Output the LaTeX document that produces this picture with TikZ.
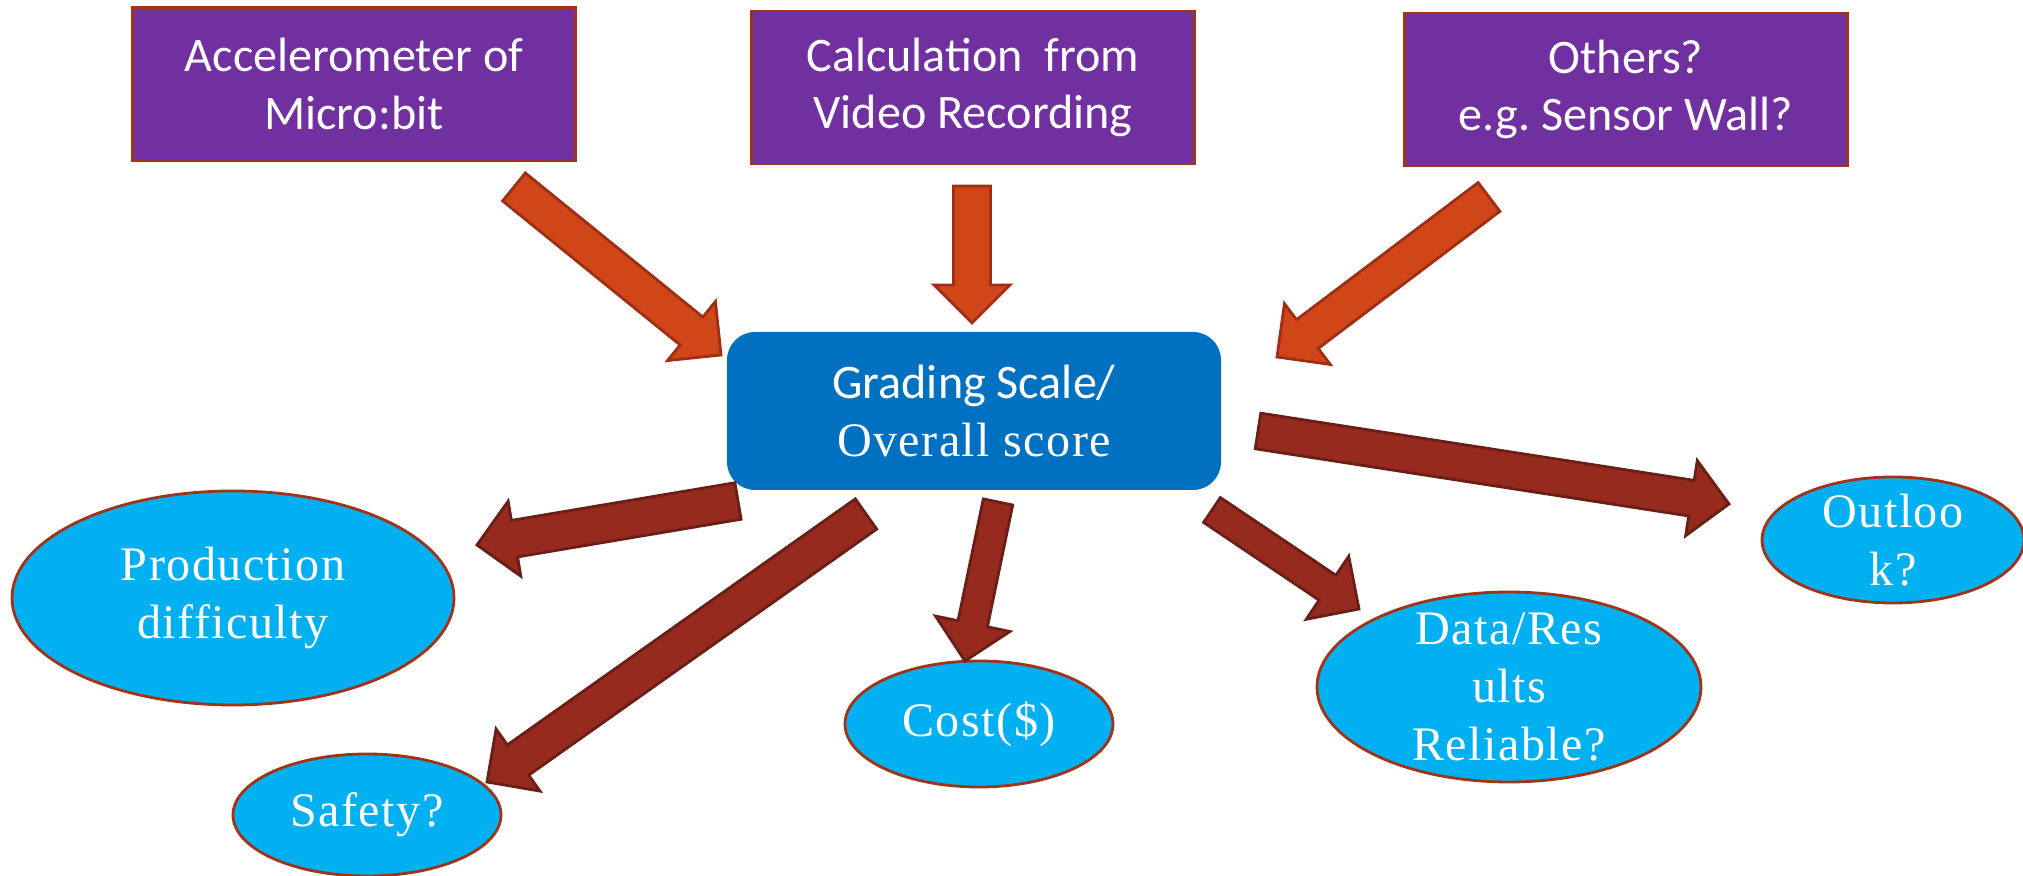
\documentclass[tikz,border=0pt]{standalone}
\usepackage{fontspec}
\setmainfont{Carlito}
\newfontfamily\ellfont[LetterSpace=3]{Liberation Serif}
\usetikzlibrary{positioning, calc, shapes.geometric}
\definecolor{box-purple}{RGB}{112,48,160}
\definecolor{score-blue}{RGB}{0,112,192}
\definecolor{ell-blue}{RGB}{0,176,240}
\definecolor{edge-red}{RGB}{160,52,24}
\definecolor{in-orange}{RGB}{208,70,24}
\definecolor{in-edge}{RGB}{160,46,20}
\definecolor{out-red}{RGB}{150,42,30}
\definecolor{out-edge}{RGB}{105,30,22}

% block arrow: style, tail, tip, half shaft width
\newcommand{\blockarr}[4]{%
  \draw[#1] ($(#2)!#4!90:(#3)$)
    -- ($($(#3)!0.38cm!(#2)$)!#4!90:(#3)$)
    -- ($($(#3)!0.38cm!(#2)$)!0.38cm!90:(#3)$)
    -- (#3)
    -- ($($(#3)!0.38cm!(#2)$)!0.38cm!-90:(#3)$)
    -- ($($(#3)!0.38cm!(#2)$)!#4!-90:(#3)$)
    -- ($(#2)!#4!-90:(#3)$) -- cycle;}

\begin{document}
\begin{tikzpicture}
    [srcbox/.style = {rectangle, draw=edge-red, line width=0.8pt, fill=box-purple,
            text=white, align=center, minimum width=4.43cm, minimum height=1.53cm,
            font=\fontsize{13.7}{16.4}\selectfont},
    scorebox/.style = {rectangle, rounded corners=0.28cm, fill=score-blue,
            text=white, align=center, minimum width=4.94cm, minimum height=1.58cm,
            font=\fontsize{13.7}{16.4}\selectfont},
    ell/.style = {ellipse, draw=edge-red, line width=0.8pt, fill=ell-blue,
            text=white, align=center, inner sep=0pt,
            font=\ellfont\fontsize{13.7}{16.6}\selectfont},
    inarrow/.style = {fill=in-orange, draw=in-edge, line width=0.8pt},
    outarrow/.style = {fill=out-red, draw=out-edge, line width=0.8pt},
    ]
    \useasboundingbox (0,0) rectangle (20.23,-8.76);

	\node[srcbox] (accel) at (3.54, -0.84) {Accelerometer of\\Micro:bit};
	\node[srcbox] (video) at (9.73, -0.875) {Calculation~ from\\Video Recording};
	\node[srcbox] (others) at (16.26, -0.895) {Others?\\e.g.\ Sensor Wall?};

	\node[scorebox] (score) at (9.74, -4.11) {Grading Scale/\\{\ellfont Overall score}};

	\node[ell, minimum width=4.42cm, minimum height=2.14cm] (prod) at (2.33, -5.98) {Production\\difficulty};
	\node[ell, minimum width=2.68cm, minimum height=1.22cm] (safety) at (3.67, -8.15) {Safety?};
	\node[ell, minimum width=2.68cm, minimum height=1.26cm] (cost) at (9.79, -7.24) {Cost(\$)};
	\node[ell, minimum width=3.84cm, minimum height=1.90cm, inner ysep=-4mm] (data) at (15.09, -6.87) {Data/Res\\ults\\Reliable?};
	\node[ell, minimum width=2.62cm, minimum height=1.26cm, inner ysep=-4mm] (outlook) at (18.93, -5.40) {Outloo\\k?};

	% arrow ends
	\coordinate (accel-tail) at (5.14, -1.87);
	\coordinate (accel-tip) at (7.21, -3.55);
	\coordinate (video-tail) at (9.72, -1.86);
	\coordinate (video-tip) at (9.72, -3.23);
	\coordinate (others-tail) at (14.89, -1.97);
	\coordinate (others-tip) at (12.77, -3.57);
	\coordinate (prod-tail) at (7.38, -5.01);
	\coordinate (prod-tip) at (4.77, -5.45);
	\coordinate (safety-tail) at (8.66, -5.14);
	\coordinate (safety-tip) at (4.87, -7.82);
	\coordinate (cost-tail) at (9.98, -5.02);
	\coordinate (cost-tip) at (9.65, -6.61);
	\coordinate (data-tail) at (12.12, -5.10);
	\coordinate (data-tip) at (13.59, -6.09);
	\coordinate (outlook-tail) at (12.58, -4.31);
	\coordinate (outlook-tip) at (17.29, -5.04);

	\blockarr{inarrow}{accel-tail}{accel-tip}{0.18cm}
	\blockarr{inarrow}{video-tail}{video-tip}{0.185cm}
	\blockarr{inarrow}{others-tail}{others-tip}{0.18cm}

	\blockarr{outarrow}{prod-tail}{prod-tip}{0.185cm}
	\blockarr{outarrow}{safety-tail}{safety-tip}{0.185cm}
	\blockarr{outarrow}{cost-tail}{cost-tip}{0.15cm}
	\blockarr{outarrow}{data-tail}{data-tip}{0.15cm}
	\blockarr{outarrow}{outlook-tail}{outlook-tip}{0.18cm}
\end{tikzpicture}
\end{document}
